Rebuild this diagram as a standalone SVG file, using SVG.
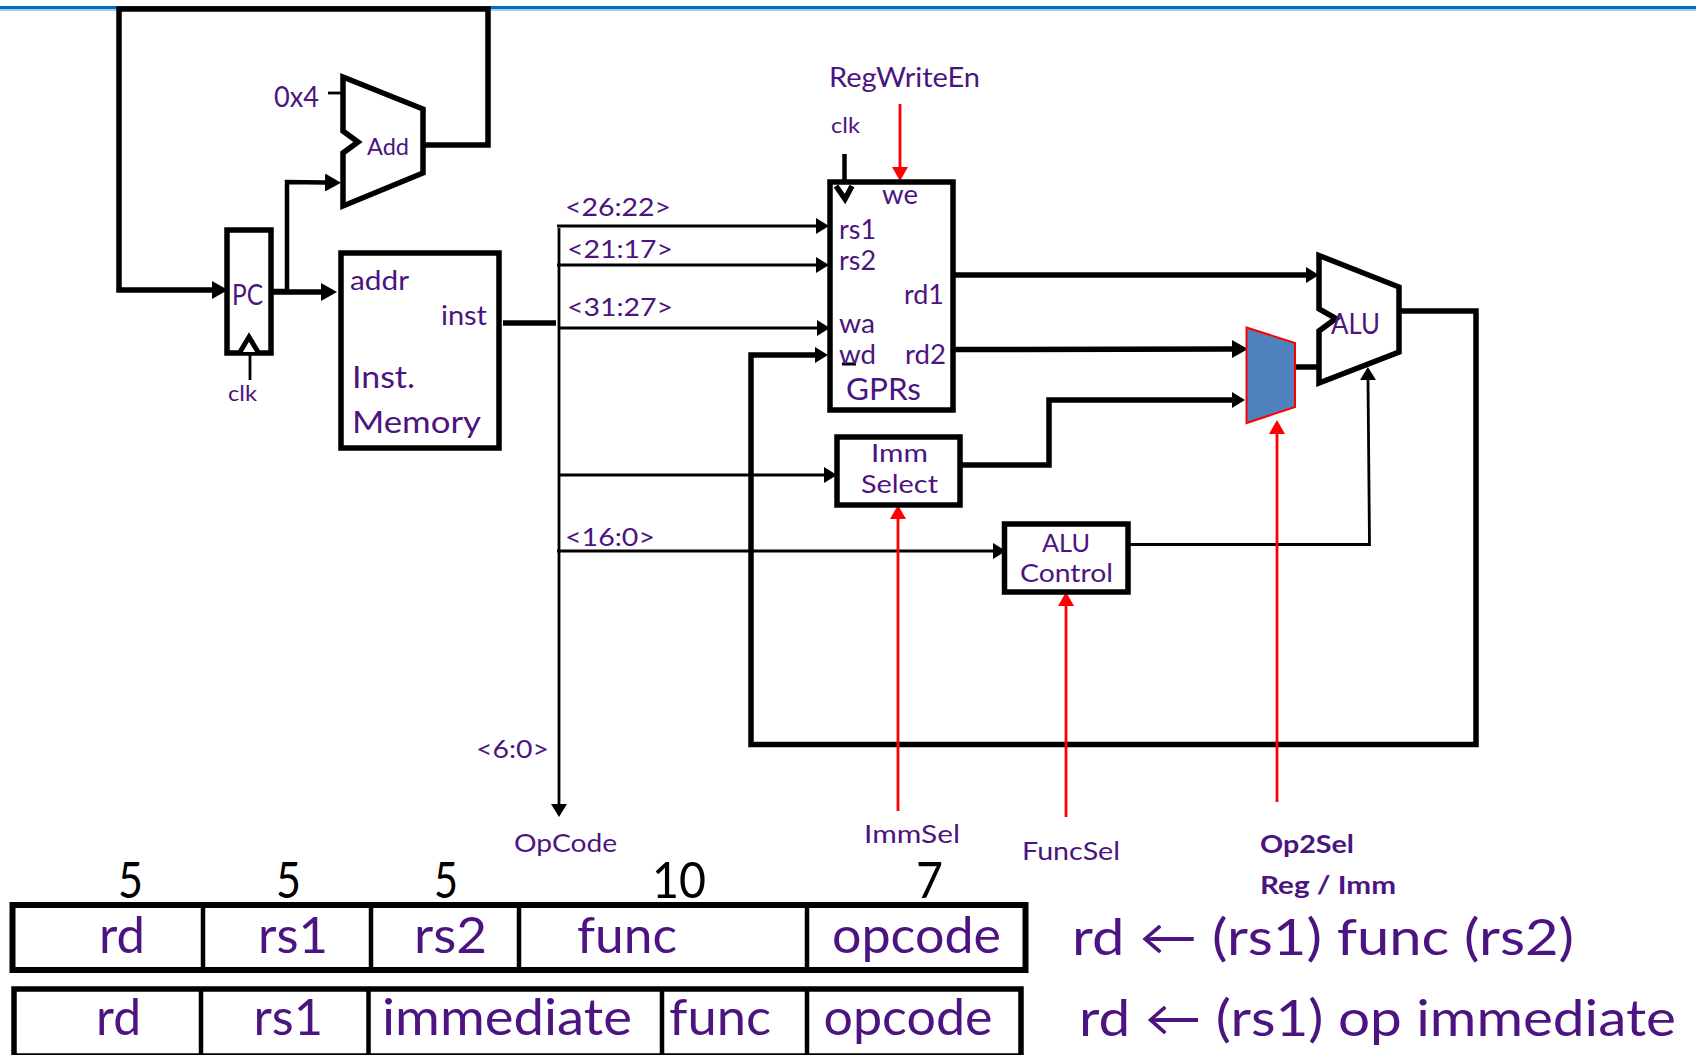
<svg xmlns="http://www.w3.org/2000/svg" width="1696" height="1055" viewBox="0 0 1696 1055">
<style>
text{font-family:Lato,"Liberation Sans",sans-serif;fill:#4c1480}
.box{fill:#fff;stroke:#000;stroke-width:5.500;stroke-linejoin:miter}
.nf{fill:none;stroke:#000;stroke-linejoin:miter}
.w5{stroke-width:5.500}.w4{stroke-width:4.500}.w3{stroke-width:2.800}
.r{fill:none;stroke:#f00;stroke-width:2.800}
.cell{fill:none;stroke:#000;stroke-width:4.500}
.s20{font-size:22px}.s23{font-size:24px}.s24{font-size:25px}.s26{font-size:26px}.s28{font-size:29px}.s30{font-size:31px}.s46{font-size:50px}
.b{font-weight:700}
.num{font-size:50px;fill:#000}
</style>
<defs>
<marker id="ah" markerUnits="userSpaceOnUse" markerWidth="16" markerHeight="18" refX="0" refY="9" orient="auto"><path d="M0 0L16 9L0 18Z" fill="#000"/></marker>
<marker id="at" markerUnits="userSpaceOnUse" markerWidth="13" markerHeight="16" refX="0" refY="8" orient="auto"><path d="M0 0L13 8L0 16Z" fill="#000"/></marker>
<marker id="ar" markerUnits="userSpaceOnUse" markerWidth="14" markerHeight="16" refX="0" refY="8" orient="auto"><path d="M0 0L14 8L0 16Z" fill="#f00"/></marker>
</defs>
<rect width="1696" height="1055" fill="#fff"/>
<g id="top-rule"><rect x="0" y="6" width="1696" height="3" fill="#0a6cc0"/><rect x="0" y="9" width="1696" height="2" fill="#a8cdec"/></g>

<g id="connectors">
<path class="nf w5" d="M424 145H488V9H119V290H212" marker-end="url(#ah)"/>
<path class="nf w4" d="M271 291H287V182L325 182.500" marker-end="url(#ah)"/>
<path class="nf w5" d="M271 292H321" marker-end="url(#ah)"/>
<path class="nf w3" d="M328 93H341"/>
<path class="nf w3" d="M250 380V345"/>
<path class="nf w5" d="M503 323H556"/>
<path class="nf w3" d="M559 228V804" marker-end="url(#at)"/>
<path class="nf w3" d="M557 226H816" marker-end="url(#at)"/>
<path class="nf w3" d="M557 265H816" marker-end="url(#at)"/>
<path class="nf w3" d="M559 328H817" marker-end="url(#at)"/>
<path class="nf w3" d="M559 475H824" marker-end="url(#at)"/>
<path class="nf w3" d="M557 551H993" marker-end="url(#at)"/>
<path class="nf w5" d="M1401 311H1476V744.500H751V355H815" marker-end="url(#at)"/>
<path class="nf w5" d="M953 275H1306" marker-end="url(#at)"/>
<path class="nf w5" d="M955 349.500L1232 349" marker-end="url(#ah)"/>
<path class="nf w5" d="M961 465H1049V400H1232" marker-end="url(#at)"/>
<path class="nf w5" d="M1292 367H1318"/>
<path class="nf w3" d="M1128 544.500H1369.500L1368 380" marker-end="url(#at)"/>
<path class="nf w4" d="M844.500 154V190"/>
<path class="r" d="M900 104V167" marker-end="url(#ar)"/>
<path class="r" d="M898 811V519" marker-end="url(#ar)"/>
<path class="r" d="M1066 817V606" marker-end="url(#ar)"/>
<path class="r" d="M1277 802V434" marker-end="url(#ar)"/>
</g>

<g id="pc">
<rect class="box" x="227" y="230" width="44" height="123"/>
<path d="M240 352L249 337L258 352" fill="#fff" stroke="#000" stroke-width="5"/>
<text class="s28" x="232" y="305" textLength="31" lengthAdjust="spacingAndGlyphs">PC</text>
<text class="s20" x="228" y="401" textLength="29" lengthAdjust="spacingAndGlyphs">clk</text>
</g>

<g id="adder">
<path class="box" d="M343 77L423 109V173L343 206V153L358 142L343 131Z"/>
<text class="s23" x="367" y="155" textLength="42" lengthAdjust="spacingAndGlyphs">Add</text>
<text class="s28" x="274" y="107" textLength="45" lengthAdjust="spacingAndGlyphs">0x4</text>
</g>

<g id="inst-memory">
<rect class="box" x="341" y="253" width="158" height="195"/>
<text class="s26" x="350" y="290" textLength="59" lengthAdjust="spacingAndGlyphs">addr</text>
<text class="s26" x="441" y="325" textLength="46" lengthAdjust="spacingAndGlyphs">inst</text>
<text class="s30" x="352" y="388" textLength="63" lengthAdjust="spacingAndGlyphs">Inst.</text>
<text class="s30" x="352" y="433" textLength="129" lengthAdjust="spacingAndGlyphs">Memory</text>
</g>

<g id="gprs">
<rect class="box" x="830" y="182" width="123" height="228"/>
<path class="nf w5" d="M836 186L845 199L852 186"/>
<path class="nf w4" d="M842 364H856" style="stroke-width:3"/>
<text class="s26" x="829" y="87" textLength="151" lengthAdjust="spacingAndGlyphs">RegWriteEn</text>
<text class="s20" x="831" y="133" textLength="29" lengthAdjust="spacingAndGlyphs">clk</text>
<text class="s26" x="882" y="204" textLength="36" lengthAdjust="spacingAndGlyphs">we</text>
<text class="s26" x="839" y="239" textLength="37" lengthAdjust="spacingAndGlyphs">rs1</text>
<text class="s26" x="839" y="270" textLength="37" lengthAdjust="spacingAndGlyphs">rs2</text>
<text class="s26" x="904" y="304" textLength="40" lengthAdjust="spacingAndGlyphs">rd1</text>
<text class="s26" x="839" y="333" textLength="36" lengthAdjust="spacingAndGlyphs">wa</text>
<text class="s26" x="839" y="364" textLength="37" lengthAdjust="spacingAndGlyphs">wd</text>
<text class="s26" x="905" y="364" textLength="41" lengthAdjust="spacingAndGlyphs">rd2</text>
<text class="s30" x="846" y="400" textLength="75" lengthAdjust="spacingAndGlyphs">GPRs</text>
</g>

<g id="imm-select">
<rect class="box" x="837" y="437" width="123" height="68"/>
<text class="s24" x="871" y="462" textLength="57" lengthAdjust="spacingAndGlyphs">Imm</text>
<text class="s24" x="861" y="493" textLength="77" lengthAdjust="spacingAndGlyphs">Select</text>
</g>

<g id="alu-control">
<rect class="box" x="1004.500" y="524" width="123.500" height="68"/>
<text class="s24" x="1042" y="552" textLength="48" lengthAdjust="spacingAndGlyphs">ALU</text>
<text class="s24" x="1020" y="582" textLength="93" lengthAdjust="spacingAndGlyphs">Control</text>
</g>

<g id="op2-mux">
<path d="M1246.500 327.500L1295 343V407L1246.500 423Z" fill="#4f81bd" stroke="#f00" stroke-width="2"/>
</g>

<g id="alu">
<path class="box" d="M1319 255.500L1399 287V352L1319 383V331L1336 318.500L1319 309Z"/>
<text class="s28" x="1331" y="334" textLength="49" lengthAdjust="spacingAndGlyphs">ALU</text>
</g>

<g id="labels">
<text class="s24" x="565" y="216" textLength="106" lengthAdjust="spacingAndGlyphs">&lt;26:22&gt;</text>
<text class="s24" x="567" y="258" textLength="106" lengthAdjust="spacingAndGlyphs">&lt;21:17&gt;</text>
<text class="s24" x="567" y="316" textLength="106" lengthAdjust="spacingAndGlyphs">&lt;31:27&gt;</text>
<text class="s24" x="565" y="546" textLength="90" lengthAdjust="spacingAndGlyphs">&lt;16:0&gt;</text>
<text class="s24" x="476" y="758" textLength="73" lengthAdjust="spacingAndGlyphs">&lt;6:0&gt;</text>
<text class="s24" x="514" y="852" textLength="103" lengthAdjust="spacingAndGlyphs">OpCode</text>
<text class="s24" x="864" y="843" textLength="96" lengthAdjust="spacingAndGlyphs">ImmSel</text>
<text class="s24" x="1022" y="860" textLength="98" lengthAdjust="spacingAndGlyphs">FuncSel</text>
<text class="s24 b" x="1260" y="853" textLength="94" lengthAdjust="spacingAndGlyphs">Op2Sel</text>
<text class="s24 b" x="1260" y="894" textLength="136" lengthAdjust="spacingAndGlyphs">Reg / Imm</text>
</g>

<g id="format-r">
<text class="num" x="118" y="898" textLength="25" lengthAdjust="spacingAndGlyphs">5</text>
<text class="num" x="276" y="898" textLength="25" lengthAdjust="spacingAndGlyphs">5</text>
<text class="num" x="434" y="898" textLength="24" lengthAdjust="spacingAndGlyphs">5</text>
<text class="num" x="652" y="898" textLength="54" lengthAdjust="spacingAndGlyphs">10</text>
<text class="num" x="916" y="898" textLength="27" lengthAdjust="spacingAndGlyphs">7</text>
<rect x="12.500" y="905" width="1013" height="65" fill="#fff" stroke="#000" stroke-width="6"/>
<path class="cell" d="M203 905V970M371 905V970M519 902V973M807 905V970"/>
<text class="s46" x="99" y="953" textLength="46" lengthAdjust="spacingAndGlyphs">rd</text>
<text class="s46" x="258" y="953" textLength="70" lengthAdjust="spacingAndGlyphs">rs1</text>
<text class="s46" x="414" y="953" textLength="73" lengthAdjust="spacingAndGlyphs">rs2</text>
<text class="s46" x="577" y="953" textLength="100" lengthAdjust="spacingAndGlyphs">func</text>
<text class="s46" x="832" y="953" textLength="169" lengthAdjust="spacingAndGlyphs">opcode</text>
<text class="s46" x="1072" y="955" textLength="502" lengthAdjust="spacingAndGlyphs">rd ← (rs1) func (rs2)</text>
</g>

<g id="format-i">
<rect x="14" y="989" width="1007" height="67" fill="#fff" stroke="#000" stroke-width="5.500"/>
<path class="cell" d="M201 989V1055M368.500 989V1055M662 989V1055M807 989V1055"/>
<text class="s46" x="96" y="1035" textLength="45" lengthAdjust="spacingAndGlyphs">rd</text>
<text class="s46" x="253.500" y="1035" textLength="69.500" lengthAdjust="spacingAndGlyphs">rs1</text>
<text class="s46" x="382" y="1035" textLength="250" lengthAdjust="spacingAndGlyphs">immediate</text>
<text class="s46" x="669" y="1035" textLength="102" lengthAdjust="spacingAndGlyphs">func</text>
<text class="s46" x="823.500" y="1035" textLength="169" lengthAdjust="spacingAndGlyphs">opcode</text>
<text class="s46" x="1079" y="1036" textLength="597" lengthAdjust="spacingAndGlyphs">rd ← (rs1) op immediate</text>
</g>
</svg>
